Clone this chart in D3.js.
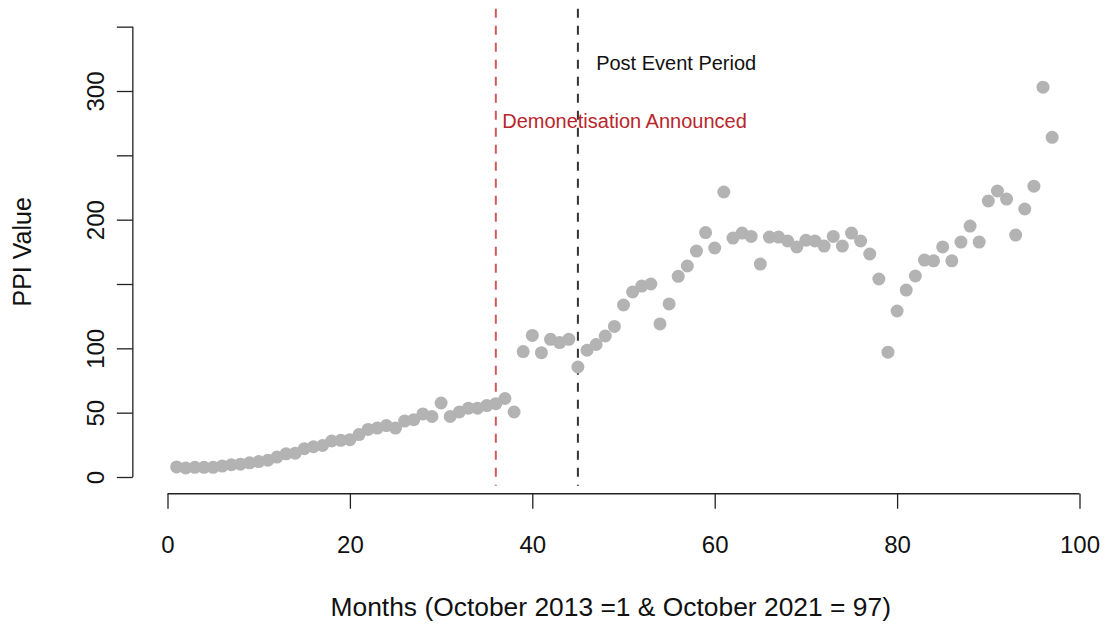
<!DOCTYPE html>
<html>
<head>
    <meta charset="utf-8">
    <style>
        body { margin: 0; background: #fff; font-family: "Liberation Sans", Arial, sans-serif; }
        .axis path, .axis line { stroke: #222; stroke-width: 1.3; }
        .axis text { font-size: 24px; fill: #111; font-family: "Liberation Sans", Arial, sans-serif; }
    </style>
    <title>PPI</title>
</head>
<body>
    <svg id="graph"></svg>
    <script src="https://cdn.jsdelivr.net/npm/d3@7"></script>
    <script>
        // month index 1..97 and PPI values
        var months = d3.range(1, 98);
        var ppi = [
            7.8, 7, 7.5, 7.5, 7.5, 8.5, 9.5, 10, 11, 12,
            13, 15.5, 18, 18.5, 22, 23.5, 24.5, 28, 28.5, 29,
            33, 37, 38, 40, 38, 43.5, 44.5, 49, 47, 57.5,
            47, 50.5, 53.5, 53.5, 55.5, 57, 61, 50.5, 97.5, 110,
            96.6, 107, 104.5, 107, 85.5, 98.5, 103, 109.6, 117, 133.7,
            143.8, 148.4, 150, 119, 134.5, 156, 164, 175.6, 190, 178,
            221.5, 185.7, 189.6, 187, 165.5, 186.5, 186.5, 183.4, 178.8, 184,
            183.4, 179.5, 187, 179.5, 189.6, 183.4, 173.3, 153.9, 97, 129,
            145.3, 156.2, 168.6, 168, 178.8, 168, 182.6, 195, 182.6, 214.5,
            222.3, 216, 188, 208.3, 226, 303, 264
        ];
        var xTicks = [0, 20, 40, 60, 80, 100];
        var yTicks = [0, 50, 100, 150, 200, 250, 300, 350];
        var yTickLabels = ['0', '50', '100', '', '200', '', '300', ''];
        var events = [
            { month: 36, label: 'Demonetisation Announced', labelX: 36.7, value: 276.8, color: '#d05a5a', text: '#b8262b' },
            { month: 45, label: 'Post Event Period', labelX: 47, value: 321.8, color: '#333', text: '#111' }
        ];

        var W = 1110, H = 628;
        var svg = d3.select('#graph').attr('width', W).attr('height', H);

        var x = d3.scaleLinear().domain([0, 100]).range([167.5, 1079.5]);
        var y = d3.scaleLinear().domain([0, 300]).range([477, 91]);

        // plot region (R style 4% extension)
        var regionTop = y(364), regionBottom = y(-13);
        var yAxisX = x(-3.8);

        // axes
        svg.append('g')
            .attr('class', 'axis x')
            .attr('transform', 'translate(0,' + regionBottom + ')')
            .call(d3.axisBottom(x).tickValues(xTicks).tickSize(15).tickPadding(27).tickSizeOuter(0))
            .call(g => g.select('.domain').attr('d', 'M' + x(0) + ',0H' + x(100)));

        var ya = svg.append('g')
            .attr('class', 'axis y')
            .attr('transform', 'translate(' + yAxisX + ',0)')
            .call(d3.axisLeft(y).tickValues(yTicks).tickSize(16).tickSizeOuter(0)
                .tickFormat((d, i) => yTickLabels[i]))
            .call(g => g.select('.domain').attr('d', 'M0,' + y(350) + 'V' + y(0)));
        ya.selectAll('.tick text')
            .attr('x', 0)
            .attr('y', -37)
            .attr('dy', '0.35em')
            .attr('transform', 'rotate(-90)')
            .style('text-anchor', 'middle');

        // event lines
        svg.selectAll('.event')
            .data(events)
            .enter().append('line')
            .attr('class', 'event')
            .attr('x1', d => x(d.month)).attr('x2', d => x(d.month))
            .attr('y1', regionTop).attr('y2', regionBottom - 8)
            .attr('stroke', d => d.color)
            .attr('stroke-width', 2)
            .attr('stroke-dasharray', '9,8');

        svg.selectAll('.event-label')
            .data(events)
            .enter().append('text')
            .attr('x', d => x(d.labelX))
            .attr('y', d => y(d.value))
            .attr('dy', '0.35em')
            .attr('fill', d => d.text)
            .style('font-size', '20px')
            .text(d => d.label);

        // points
        svg.selectAll('.pt')
            .data(months)
            .enter().append('circle')
            .attr('class', 'pt')
            .attr('cx', d => x(d))
            .attr('cy', (d, i) => y(ppi[i]))
            .attr('r', 6.5)
            .attr('fill', '#b3b3b3');

        // axis titles
        svg.append('text')
            .attr('x', x(48.6))
            .attr('y', 607)
            .attr('dy', '0.35em')
            .style('text-anchor', 'middle')
            .style('font-size', '26.4px')
            .attr('fill', '#111')
            .text('Months (October 2013 =1 & October 2021 = 97)');

        svg.append('text')
            .attr('transform', 'translate(22,' + (y(0) + y(350)) / 2 + ') rotate(-90)')
            .attr('dy', '0.35em')
            .style('text-anchor', 'middle')
            .style('font-size', '25px')
            .attr('fill', '#111')
            .text('PPI Value');
    </script>
</body>
</html>
